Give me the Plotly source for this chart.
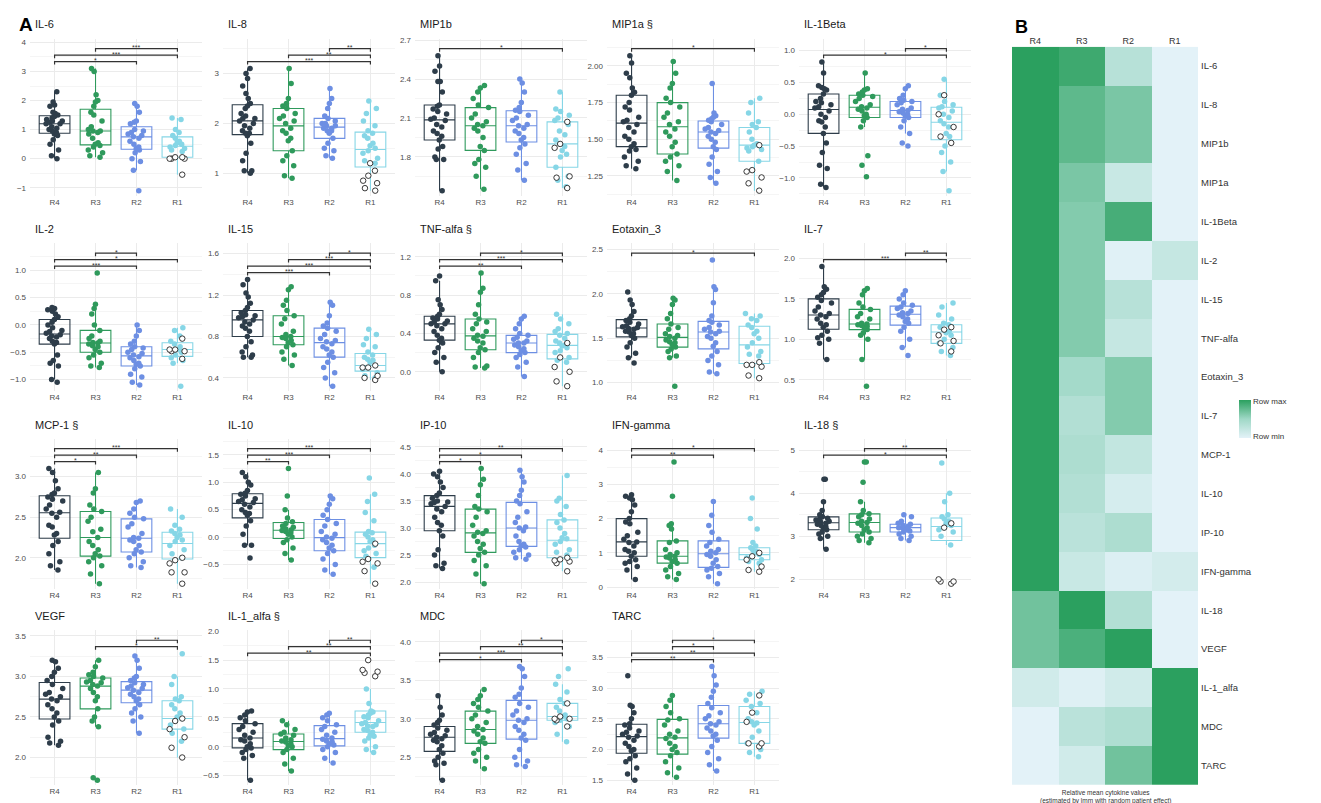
import plotly.graph_objects as go

W, H = 1321, 803
GROUPS = ["R4", "R3", "R2", "R1"]
GROUP_COLORS = ["#2e3d4a", "#2f9a5c", "#6d8fe3", "#86d6e6"]

PANEL_TITLES = ["IL-6", "IL-8", "MIP1b", "MIP1a §", "IL-1Beta",
                "IL-2", "IL-15", "TNF-alfa §", "Eotaxin_3", "IL-7",
                "MCP-1 §", "IL-10", "IP-10", "IFN-gamma", "IL-18 §",
                "VEGF", "IL-1_alfa §", "MDC", "TARC"]

# ---------------- data ----------------
IL6_R4 = [2.3, 1.95, 1.85, 1.8, 1.6, 1.55, 1.5, 1.45, 1.4, 1.35, 1.3, 1.3, 1.25, 1.2, 1.2, 1.1, 1.05, 1.0, 0.95, 0.9, 0.85, 0.8, 0.65, 0.5, 0.3, 0.1, 0.0]
IL6_R3 = [3.1, 3.0, 2.2, 2.0, 1.95, 1.8, 1.6, 1.5, 1.3, 1.1, 1.0, 0.95, 0.95, 0.9, 0.85, 0.7, 0.55, 0.5, 0.45, 0.4, 0.3, 0.2, 0.1, 0.05]
IL6_R2 = [1.9, 1.8, 1.6, 1.3, 1.25, 1.2, 1.0, 0.95, 0.9, 0.85, 0.8, 0.75, 0.7, 0.6, 0.5, 0.4, 0.35, 0.3, 0.2, 0.0, -0.1, -0.4, -1.1]
IL6_R1 = [1.4, 1.35, 1.0, 0.9, 0.8, 0.7, 0.6, 0.55, 0.5, 0.45, 0.4, 0.35, 0.3, 0.25]
IL6_R1_open = [0.05, 0.0, 0.0, 0.05, 0.0, -0.55]

IL8_R4 = [3.1, 3.0, 2.9, 2.75, 2.6, 2.5, 2.4, 2.35, 2.3, 2.2, 2.15, 2.1, 2.1, 2.05, 2.0, 1.95, 1.9, 1.85, 1.8, 1.8, 1.75, 1.6, 1.4, 1.25, 1.05, 1.0, 1.05]
IL8_R3 = [3.1, 2.8, 2.5, 2.4, 2.35, 2.3, 2.2, 2.15, 2.1, 2.05, 2.0, 1.9, 1.85, 1.8, 1.7, 1.65, 1.45, 1.35, 1.25, 1.15, 0.95, 0.9]
IL8_R2 = [2.7, 2.5, 2.4, 2.3, 2.15, 2.1, 2.05, 2.0, 2.0, 1.95, 1.95, 1.9, 1.9, 1.85, 1.85, 1.8, 1.7, 1.6, 1.5, 1.45, 1.35, 1.3]
IL8_R1 = [2.45, 2.3, 2.2, 2.05, 1.95, 1.85, 1.8, 1.75, 1.7, 1.6, 1.55, 1.5, 1.45, 1.4, 1.3, 1.25, 1.2]
IL8_R1_open = [1.2, 1.05, 0.95, 0.85, 0.7, 0.65, 0.8]

MIP1B_R4 = [2.58, 2.5, 2.46, 2.38, 2.38, 2.3, 2.2, 2.19, 2.17, 2.15, 2.13, 2.1, 2.09, 2.08, 2.05, 2.03, 2.0, 1.98, 1.96, 1.93, 1.88, 1.86, 1.8, 1.78, 1.78, 1.54]
MIP1B_R3 = [2.35, 2.33, 2.3, 2.25, 2.2, 2.18, 2.13, 2.1, 2.07, 2.05, 2.04, 2.02, 2.0, 1.95, 1.88, 1.85, 1.78, 1.75, 1.72, 1.65, 1.55]
MIP1B_R2 = [2.4, 2.37, 2.3, 2.22, 2.18, 2.16, 2.15, 2.12, 2.1, 2.08, 2.05, 2.04, 2.02, 2.0, 1.98, 1.95, 1.93, 1.9, 1.87, 1.82, 1.75, 1.7, 1.62]
MIP1B_R1 = [2.3, 2.17, 2.15, 2.12, 2.1, 2.08, 2.05, 2.0, 1.97, 1.93, 1.9, 1.88, 1.85, 1.82, 1.8, 1.72, 1.65, 1.62, 1.57]
MIP1B_R1_open = [2.07, 1.9, 1.87, 1.65, 1.64, 1.56]

MIP1A_R4 = [2.07, 2.02, 1.95, 1.92, 1.85, 1.82, 1.8, 1.75, 1.72, 1.7, 1.65, 1.63, 1.62, 1.6, 1.58, 1.55, 1.52, 1.5, 1.47, 1.45, 1.43, 1.42, 1.38, 1.35, 1.32, 1.3]
MIP1A_R3 = [2.03, 1.95, 1.88, 1.85, 1.78, 1.75, 1.72, 1.68, 1.65, 1.62, 1.6, 1.57, 1.55, 1.52, 1.48, 1.45, 1.4, 1.38, 1.35, 1.32, 1.28, 1.22]
MIP1A_R2 = [1.88, 1.68, 1.66, 1.65, 1.64, 1.63, 1.62, 1.6, 1.58, 1.57, 1.56, 1.55, 1.54, 1.52, 1.5, 1.48, 1.45, 1.43, 1.38, 1.33, 1.28, 1.24, 1.2]
MIP1A_R1 = [1.78, 1.75, 1.68, 1.62, 1.6, 1.58, 1.55, 1.5, 1.47, 1.46, 1.46, 1.45, 1.44, 1.43, 1.42, 1.35]
MIP1A_R1_open = [1.46, 1.29, 1.28, 1.24, 1.2, 1.15]

IL1B_R4 = [0.82, 0.65, 0.45, 0.42, 0.4, 0.38, 0.32, 0.25, 0.2, 0.18, 0.15, 0.12, 0.1, 0.05, 0.0, -0.05, -0.1, -0.12, -0.2, -0.3, -0.45, -0.6, -0.8, -0.85, -1.1, -1.15]
IL1B_R3 = [0.65, 0.4, 0.38, 0.35, 0.32, 0.3, 0.28, 0.25, 0.2, 0.15, 0.12, 0.1, 0.08, 0.05, 0.0, -0.02, -0.05, -0.1, -0.2, -0.65, -0.8, -0.98]
IL1B_R2 = [0.45, 0.4, 0.3, 0.25, 0.22, 0.2, 0.18, 0.15, 0.1, 0.08, 0.06, 0.04, 0.02, 0.0, -0.02, -0.05, -0.1, -0.2, -0.3, -0.45, -0.5]
IL1B_R1 = [0.55, 0.3, 0.2, 0.15, 0.12, 0.1, 0.05, 0.0, -0.05, -0.1, -0.15, -0.2, -0.3, -0.35, -0.5, -0.6, -0.75, -0.9, -1.2]
IL1B_R1_open = [0.3, 0.0, -0.2, -0.35, -0.45]

IL2_R4 = [0.32, 0.3, 0.28, 0.25, 0.2, 0.15, 0.1, 0.05, 0.0, -0.05, -0.1, -0.12, -0.15, -0.18, -0.2, -0.22, -0.25, -0.3, -0.32, -0.35, -0.55, -0.65, -0.7, -0.75, -1.0, -1.05]
IL2_R3 = [0.95, 0.38, 0.3, 0.2, 0.0, -0.1, -0.2, -0.25, -0.3, -0.32, -0.33, -0.35, -0.38, -0.4, -0.45, -0.5, -0.55, -0.6, -0.7, -0.75, -0.78]
IL2_R2 = [0.0, -0.1, -0.2, -0.3, -0.35, -0.4, -0.42, -0.45, -0.5, -0.52, -0.55, -0.58, -0.6, -0.65, -0.7, -0.72, -0.75, -0.8, -0.9, -0.95, -1.05, -1.1]
IL2_R1 = [-0.05, -0.1, -0.2, -0.3, -0.35, -0.4, -0.45, -0.5, -0.55, -0.6, -0.65, -0.7, -1.12]
IL2_R1_open = [-0.25, -0.45, -0.45, -0.48, -0.48, -0.62]

IL15_R4 = [1.35, 1.3, 1.22, 1.18, 1.12, 1.08, 1.05, 1.03, 1.01, 1.0, 0.99, 0.98, 0.96, 0.94, 0.92, 0.9, 0.88, 0.85, 0.8, 0.75, 0.7, 0.65, 0.62, 0.6, 0.6]
IL15_R3 = [1.28, 1.25, 1.15, 1.1, 1.05, 1.0, 0.97, 0.92, 0.85, 0.82, 0.8, 0.79, 0.78, 0.76, 0.74, 0.72, 0.7, 0.65, 0.62, 0.58, 0.52]
IL15_R2 = [1.13, 1.1, 1.0, 0.93, 0.9, 0.88, 0.85, 0.82, 0.78, 0.76, 0.75, 0.73, 0.7, 0.68, 0.65, 0.62, 0.6, 0.55, 0.5, 0.45, 0.4, 0.32]
IL15_R1 = [0.87, 0.82, 0.78, 0.72, 0.7, 0.65, 0.62, 0.6, 0.58, 0.57, 0.55, 0.52, 0.5, 0.48, 0.45, 0.42, 0.4]
IL15_R1_open = [0.52, 0.5, 0.5, 0.42, 0.4, 0.38]

TNF_R4 = [1.0, 0.95, 0.75, 0.7, 0.65, 0.6, 0.58, 0.56, 0.55, 0.53, 0.52, 0.5, 0.5, 0.48, 0.45, 0.42, 0.38, 0.35, 0.33, 0.3, 0.25, 0.2, 0.15, 0.1, 0.0]
TNF_R3 = [1.03, 0.87, 0.83, 0.7, 0.6, 0.55, 0.52, 0.5, 0.45, 0.42, 0.38, 0.37, 0.35, 0.32, 0.3, 0.25, 0.23, 0.2, 0.15, 0.06, 0.05, 0.04]
TNF_R2 = [0.58, 0.55, 0.5, 0.45, 0.4, 0.38, 0.36, 0.34, 0.32, 0.3, 0.3, 0.28, 0.26, 0.24, 0.22, 0.2, 0.18, 0.15, 0.1, 0.05, -0.05]
TNF_R1 = [0.6, 0.55, 0.5, 0.45, 0.42, 0.4, 0.38, 0.35, 0.32, 0.3, 0.28, 0.27, 0.25, 0.22, 0.2, 0.15, 0.12, 0.1]
TNF_R1_open = [0.3, 0.15, 0.05, 0.0, -0.1, -0.15]

EOT_R4 = [2.02, 1.93, 1.88, 1.8, 1.75, 1.72, 1.7, 1.68, 1.66, 1.64, 1.63, 1.62, 1.61, 1.6, 1.58, 1.57, 1.55, 1.53, 1.5, 1.45, 1.4, 1.33, 1.28, 1.22]
EOT_R3 = [1.95, 1.93, 1.88, 1.78, 1.72, 1.66, 1.62, 1.6, 1.55, 1.53, 1.52, 1.5, 1.48, 1.46, 1.45, 1.43, 1.4, 1.38, 1.35, 1.3, 1.28, 0.96]
EOT_R2 = [2.38, 2.08, 2.05, 1.9, 1.75, 1.7, 1.68, 1.65, 1.62, 1.6, 1.58, 1.57, 1.55, 1.52, 1.5, 1.45, 1.41, 1.35, 1.3, 1.25, 1.2, 1.12, 1.1]
EOT_R1 = [1.78, 1.75, 1.72, 1.7, 1.65, 1.62, 1.58, 1.55, 1.5, 1.45, 1.4, 1.35, 1.32, 1.3]
EOT_R1_open = [1.23, 1.2, 1.2, 1.18, 1.08, 1.05]

IL7_R4 = [1.9, 1.65, 1.62, 1.58, 1.55, 1.52, 1.48, 1.45, 1.4, 1.35, 1.32, 1.3, 1.28, 1.25, 1.2, 1.18, 1.15, 1.1, 1.05, 1.02, 1.0, 0.95, 0.75]
IL7_R3 = [1.63, 1.6, 1.55, 1.45, 1.4, 1.37, 1.32, 1.28, 1.25, 1.2, 1.19, 1.18, 1.17, 1.16, 1.15, 1.12, 1.08, 1.05, 1.0, 0.75, 0.42]
IL7_R2 = [1.6, 1.55, 1.5, 1.45, 1.42, 1.4, 1.38, 1.35, 1.33, 1.32, 1.3, 1.28, 1.25, 1.22, 1.2, 1.15, 1.1, 1.0, 0.9, 0.8]
IL7_R1 = [1.45, 1.4, 1.3, 1.25, 1.2, 1.18, 1.15, 1.12, 1.1, 1.08, 1.05, 1.0, 0.95, 0.9, 0.85, 0.8]
IL7_R1_open = [1.15, 1.12, 1.05, 0.98, 0.95, 0.85]

MCP1_R4 = [3.1, 3.05, 2.95, 2.85, 2.8, 2.78, 2.75, 2.72, 2.7, 2.65, 2.6, 2.56, 2.55, 2.5, 2.4, 2.38, 2.3, 2.28, 2.2, 2.15, 2.05, 1.95, 1.9, 1.85]
MCP1_R3 = [3.05, 2.85, 2.8, 2.65, 2.6, 2.57, 2.5, 2.45, 2.35, 2.32, 2.25, 2.2, 2.15, 2.1, 2.05, 2.02, 2.0, 1.95, 1.9, 1.8, 1.68]
MCP1_R2 = [2.7, 2.68, 2.6, 2.55, 2.5, 2.48, 2.42, 2.38, 2.3, 2.25, 2.24, 2.22, 2.2, 2.15, 2.1, 2.07, 2.05, 2.0, 1.95, 1.9, 1.88]
MCP1_R1 = [2.6, 2.5, 2.4, 2.35, 2.33, 2.3, 2.28, 2.25, 2.22, 2.2, 2.15, 2.1, 2.05, 2.0]
MCP1_R1_open = [2.0, 1.97, 1.93, 1.82, 1.82, 1.68]

IL10_R4 = [1.18, 1.1, 1.0, 0.95, 0.85, 0.8, 0.78, 0.75, 0.7, 0.68, 0.65, 0.63, 0.6, 0.55, 0.5, 0.45, 0.43, 0.4, 0.3, 0.2, 0.05, -0.15, -0.15, -0.38]
IL10_R3 = [1.25, 0.75, 0.5, 0.35, 0.28, 0.25, 0.2, 0.18, 0.15, 0.13, 0.12, 0.1, 0.08, 0.05, 0.0, -0.05, -0.1, -0.2, -0.3, -0.42]
IL10_R2 = [0.75, 0.7, 0.6, 0.5, 0.4, 0.32, 0.25, 0.2, 0.1, 0.05, 0.0, -0.02, -0.05, -0.1, -0.15, -0.2, -0.25, -0.3, -0.4, -0.5, -0.6, -0.68]
IL10_R1 = [1.08, 0.78, 0.65, 0.45, 0.3, 0.1, 0.08, 0.05, 0.0, -0.05, -0.08, -0.15, -0.2, -0.25, -0.3, -0.35, -0.55]
IL10_R1_open = [-0.12, -0.4, -0.48, -0.45, -0.62, -0.85]

IP10_R4 = [4.05, 4.0, 3.95, 3.85, 3.75, 3.65, 3.6, 3.55, 3.5, 3.48, 3.47, 3.45, 3.4, 3.35, 3.3, 3.2, 3.1, 3.05, 2.95, 2.85, 2.6, 2.5, 2.35, 2.3, 2.25]
IP10_R3 = [4.1, 3.9, 3.8, 3.6, 3.4, 3.35, 3.3, 3.2, 3.05, 2.95, 2.92, 2.9, 2.85, 2.75, 2.7, 2.62, 2.55, 2.5, 2.4, 2.3, 2.15, 1.97]
IP10_R2 = [4.07, 3.95, 3.85, 3.7, 3.6, 3.5, 3.45, 3.3, 3.2, 3.1, 3.02, 3.0, 2.95, 2.85, 2.75, 2.7, 2.67, 2.65, 2.6, 2.55, 2.5, 2.45, 2.42]
IP10_R1 = [3.97, 3.55, 3.5, 3.4, 3.25, 3.15, 3.1, 3.0, 2.9, 2.82, 2.8, 2.75, 2.7, 2.6, 2.55, 2.5]
IP10_R1_open = [2.45, 2.42, 2.4, 2.38, 2.35, 2.2]

IFNG_R4 = [2.7, 2.65, 2.6, 2.55, 2.4, 2.2, 2.0, 1.9, 1.85, 1.6, 1.5, 1.4, 1.32, 1.3, 1.2, 1.1, 1.05, 1.0, 0.9, 0.8, 0.75, 0.7, 0.6, 0.5, 0.22]
IFNG_R3 = [3.65, 2.65, 1.85, 1.8, 1.7, 1.35, 1.3, 1.1, 1.0, 0.95, 0.9, 0.88, 0.85, 0.8, 0.75, 0.7, 0.6, 0.5, 0.4, 0.3, 0.22]
IFNG_R2 = [2.5, 2.1, 1.8, 1.6, 1.4, 1.3, 1.2, 1.1, 1.05, 1.0, 0.95, 0.9, 0.8, 0.7, 0.6, 0.55, 0.5, 0.4, 0.3, 0.1]
IFNG_R1 = [2.6, 2.0, 1.7, 1.3, 1.2, 1.15, 1.1, 1.05, 1.0, 0.95, 0.9, 0.85, 0.8, 0.75, 0.7]
IFNG_R1_open = [1.0, 0.9, 0.8, 0.6, 0.5, 0.45]

IL18_R4 = [4.32, 4.32, 3.8, 3.6, 3.5, 3.45, 3.42, 3.4, 3.38, 3.35, 3.33, 3.3, 3.28, 3.25, 3.22, 3.2, 3.15, 3.1, 3.05, 3.0, 2.95, 2.7]
IL18_R3 = [4.72, 4.72, 4.25, 3.8, 3.6, 3.52, 3.5, 3.45, 3.4, 3.35, 3.32, 3.3, 3.25, 3.2, 3.15, 3.1, 3.05, 3.0, 2.95, 2.9, 2.85]
IL18_R2 = [3.5, 3.45, 3.35, 3.3, 3.28, 3.25, 3.22, 3.2, 3.2, 3.18, 3.15, 3.12, 3.1, 3.05, 3.0, 2.95, 2.9]
IL18_R1 = [4.7, 4.0, 3.8, 3.5, 3.45, 3.4, 3.35, 3.3, 3.25, 3.2, 3.15, 3.1, 3.0, 2.8]
IL18_R1_open = [3.3, 3.2, 2.0, 1.95, 1.9, 1.95]

VEGF_R4 = [3.2, 3.18, 3.1, 3.05, 3.0, 2.95, 2.9, 2.85, 2.8, 2.78, 2.75, 2.72, 2.7, 2.65, 2.6, 2.55, 2.5, 2.45, 2.4, 2.25, 2.2, 2.18, 2.15]
VEGF_R3 = [3.2, 3.12, 3.05, 3.02, 3.0, 2.98, 2.95, 2.93, 2.92, 2.9, 2.88, 2.85, 2.8, 2.75, 2.7, 2.6, 2.5, 2.45, 2.38, 1.75, 1.72]
VEGF_R2 = [3.25, 3.2, 3.1, 3.0, 2.98, 2.95, 2.92, 2.9, 2.88, 2.86, 2.85, 2.83, 2.8, 2.78, 2.75, 2.72, 2.7, 2.65, 2.6, 2.55, 2.5, 2.45, 2.3]
VEGF_R1 = [3.28, 3.0, 2.9, 2.75, 2.72, 2.7, 2.65, 2.6, 2.55, 2.5, 2.48, 2.45, 2.4, 2.35, 2.3, 2.2]
VEGF_R1_open = [2.48, 2.45, 2.35, 2.25, 2.12, 2.0]

IL1A_R4 = [0.62, 0.6, 0.55, 0.5, 0.45, 0.4, 0.35, 0.3, 0.25, 0.2, 0.15, 0.12, 0.1, 0.05, 0.0, -0.02, -0.05, -0.1, -0.15, -0.2, -0.58]
IL1A_R3 = [0.45, 0.38, 0.3, 0.25, 0.22, 0.2, 0.15, 0.12, 0.1, 0.08, 0.05, 0.02, 0.0, -0.05, -0.1, -0.2, -0.3, -0.42]
IL1A_R2 = [0.58, 0.55, 0.5, 0.45, 0.38, 0.35, 0.3, 0.25, 0.2, 0.15, 0.13, 0.1, 0.08, 0.05, 0.03, 0.0, -0.05, -0.1, -0.2, -0.28]
IL1A_R1 = [1.0, 0.75, 0.62, 0.6, 0.58, 0.55, 0.52, 0.5, 0.45, 0.42, 0.4, 0.38, 0.36, 0.35, 0.3, 0.28, 0.25, 0.2, 0.18, 0.15, 0.1, 0.0, -0.05, -0.1]
IL1A_R1_open = [1.5, 1.33, 1.3, 1.28, 1.22]

MDC_R4 = [3.3, 3.15, 3.05, 2.98, 2.95, 2.92, 2.88, 2.85, 2.82, 2.8, 2.78, 2.76, 2.74, 2.72, 2.7, 2.65, 2.6, 2.55, 2.5, 2.45, 2.42, 2.4, 2.2]
MDC_R3 = [3.38, 3.3, 3.25, 3.2, 3.15, 3.1, 3.05, 3.0, 2.95, 2.9, 2.86, 2.84, 2.8, 2.75, 2.7, 2.68, 2.6, 2.55, 2.5, 2.45, 2.35]
MDC_R2 = [3.68, 3.65, 3.55, 3.4, 3.32, 3.28, 3.2, 3.15, 3.1, 3.05, 3.0, 2.98, 2.95, 2.9, 2.85, 2.8, 2.75, 2.72, 2.6, 2.5, 2.45, 2.4, 2.38]
MDC_R1 = [3.65, 3.55, 3.45, 3.35, 3.25, 3.2, 3.15, 3.1, 3.05, 3.03, 3.0, 2.98, 2.95, 2.9, 2.8, 2.7]
MDC_R1_open = [3.2, 3.03, 3.0, 3.0, 2.98, 2.9]

TARC_R4 = [3.2, 2.72, 2.7, 2.6, 2.5, 2.42, 2.4, 2.35, 2.3, 2.28, 2.25, 2.22, 2.2, 2.15, 2.1, 2.05, 2.0, 1.98, 1.9, 1.85, 1.8, 1.7, 1.6, 1.5]
TARC_R3 = [2.88, 2.8, 2.7, 2.6, 2.5, 2.48, 2.4, 2.3, 2.25, 2.2, 2.18, 2.1, 2.05, 2.0, 1.95, 1.9, 1.8, 1.7, 1.62, 1.55]
TARC_R2 = [3.35, 3.2, 3.05, 2.95, 2.85, 2.75, 2.68, 2.6, 2.55, 2.5, 2.45, 2.42, 2.4, 2.35, 2.3, 2.25, 2.22, 2.15, 2.05, 1.95, 1.85, 1.75, 1.65]
TARC_R1 = [2.95, 2.9, 2.8, 2.75, 2.7, 2.6, 2.5, 2.45, 2.43, 2.4, 2.3, 2.2, 2.1, 2.0, 1.95, 1.88]
TARC_R1_open = [2.88, 2.6, 2.45, 2.1, 2.1, 2.05]

# significance brackets per panel, bottom to top: (from, to, label)
BRACKETS = [
    [("R4", "R2", "*"), ("R4", "R1", "***"), ("R3", "R1", "***")],
    [("R4", "R1", "***"), ("R3", "R1", "**"), ("R2", "R1", "**")],
    [("R4", "R1", "*")],
    [("R4", "R1", "*")],
    [("R4", "R1", "*"), ("R2", "R1", "*")],
    [("R4", "R2", "***"), ("R4", "R1", "*"), ("R3", "R2", "*")],
    [("R4", "R2", "***"), ("R4", "R1", "***"), ("R3", "R1", "***"), ("R2", "R1", "*")],
    [("R4", "R2", "**"), ("R4", "R1", "***"), ("R3", "R1", "*")],
    [("R4", "R1", "*")],
    [("R4", "R1", "***"), ("R2", "R1", "**")],
    [("R4", "R3", "*"), ("R4", "R2", "**"), ("R4", "R1", "***")],
    [("R4", "R3", "**"), ("R4", "R2", "***"), ("R4", "R1", "***")],
    [("R4", "R3", "*"), ("R4", "R2", "*"), ("R4", "R1", "**")],
    [("R4", "R2", "**"), ("R4", "R1", "*")],
    [("R4", "R1", "*"), ("R3", "R1", "**")],
    [("R3", "R1", "*"), ("R2", "R1", "**")],
    [("R4", "R1", "**"), ("R3", "R1", "**"), ("R2", "R1", "**")],
    [("R4", "R2", "*"), ("R4", "R1", "***"), ("R3", "R1", "**"), ("R2", "R1", "*")],
    [("R4", "R2", "**"), ("R4", "R1", "**"), ("R3", "R2", "*"), ("R3", "R1", "*")],
]

# y tick spacing and format per panel
TICK_STEP = [1, 1, 0.3, 0.25, 0.5, 0.5, 0.4, 0.4, 0.5, 0.5, 0.5, 0.5, 0.5, 1, 1, 0.5, 0.5, 0.5, 0.5]
TICK_FMT = [".0f", ".0f", ".1f", ".2f", ".1f", ".1f", ".1f", ".1f", ".1f", ".1f", ".1f", ".1f", ".1f", ".0f", ".0f", ".1f", ".1f", ".1f", ".1f"]
TICK_START = [0, 0, 1.5, 1.25, 0, 0, 0.4, 0, 0, 0, 0, 0, 0, 0, 0, 0, 0, 0, 0]

HEAT_ROWS = ["IL-6", "IL-8", "MIP1b", "MIP1a", "IL-1Beta", "IL-2", "IL-15", "TNF-alfa",
             "Eotaxin_3", "IL-7", "MCP-1", "IL-10", "IP-10", "IFN-gamma", "IL-18", "VEGF",
             "IL-1_alfa", "MDC", "TARC"]
HEAT_Z = [
    [1.0, 0.92, 0.32, 0.0],
    [1.0, 0.78, 0.66, 0.0],
    [1.0, 0.78, 0.66, 0.0],
    [1.0, 0.66, 0.2, 0.0],
    [1.0, 0.62, 0.88, 0.0],
    [1.0, 0.62, 0.02, 0.22],
    [1.0, 0.62, 0.32, 0.0],
    [1.0, 0.62, 0.22, 0.0],
    [1.0, 0.46, 0.62, 0.0],
    [1.0, 0.36, 0.62, 0.0],
    [1.0, 0.4, 0.24, 0.0],
    [1.0, 0.36, 0.1, 0.0],
    [1.0, 0.3, 0.4, 0.0],
    [1.0, 0.2, 0.05, 0.12],
    [0.7, 1.0, 0.36, 0.0],
    [0.7, 0.86, 1.0, 0.0],
    [0.14, 0.04, 0.14, 1.0],
    [0.0, 0.3, 0.38, 1.0],
    [0.0, 0.14, 0.7, 1.0],
]

PANEL_DATA = [
    (IL6_R4, IL6_R3, IL6_R2, IL6_R1, IL6_R1_open),
    (IL8_R4, IL8_R3, IL8_R2, IL8_R1, IL8_R1_open),
    (MIP1B_R4, MIP1B_R3, MIP1B_R2, MIP1B_R1, MIP1B_R1_open),
    (MIP1A_R4, MIP1A_R3, MIP1A_R2, MIP1A_R1, MIP1A_R1_open),
    (IL1B_R4, IL1B_R3, IL1B_R2, IL1B_R1, IL1B_R1_open),
    (IL2_R4, IL2_R3, IL2_R2, IL2_R1, IL2_R1_open),
    (IL15_R4, IL15_R3, IL15_R2, IL15_R1, IL15_R1_open),
    (TNF_R4, TNF_R3, TNF_R2, TNF_R1, TNF_R1_open),
    (EOT_R4, EOT_R3, EOT_R2, EOT_R1, EOT_R1_open),
    (IL7_R4, IL7_R3, IL7_R2, IL7_R1, IL7_R1_open),
    (MCP1_R4, MCP1_R3, MCP1_R2, MCP1_R1, MCP1_R1_open),
    (IL10_R4, IL10_R3, IL10_R2, IL10_R1, IL10_R1_open),
    (IP10_R4, IP10_R3, IP10_R2, IP10_R1, IP10_R1_open),
    (IFNG_R4, IFNG_R3, IFNG_R2, IFNG_R1, IFNG_R1_open),
    (IL18_R4, IL18_R3, IL18_R2, IL18_R1, IL18_R1_open),
    (VEGF_R4, VEGF_R3, VEGF_R2, VEGF_R1, VEGF_R1_open),
    (IL1A_R4, IL1A_R3, IL1A_R2, IL1A_R1, IL1A_R1_open),
    (MDC_R4, MDC_R3, MDC_R2, MDC_R1, MDC_R1_open),
    (TARC_R4, TARC_R3, TARC_R2, TARC_R1, TARC_R1_open),
]

# ---------------- layout geometry (pixels) ----------------
FONT = "Liberation Sans, Arial, sans-serif"
COL_LEFT = [22, 215, 407, 599, 791]
PANEL_W = 172
ROW_TITLE = [13, 220, 417, 610]
ROW_TOP = [28, 234, 431, 624]
ROW_BOT = [186, 383, 582, 780]

fig = go.Figure()
shapes = []
annotations = []
layout_axes = {}

def px(x):
    return x / W

def py(y):
    return 1 - y / H

for i, (title, data) in enumerate(zip(PANEL_TITLES, PANEL_DATA)):
    r, c = divmod(i, 5)
    k = i + 1
    xa, ya = f"x{k}", f"y{k}"
    left, top, bot = COL_LEFT[c], ROW_TOP[r], ROW_BOT[r]
    hp = bot - top
    groups_vals = list(data[:4])
    opens = data[4]
    allv = [v for g in groups_vals for v in g] + list(opens)
    mn, mx = min(allv), max(allv)
    nb = len(BRACKETS[i])
    pad_b = 5
    pad_t = (7 + 6.5 * (nb - 1) + 10) if nb else 8
    span = (mx - mn) * hp / (hp - pad_b - pad_t)
    u = span / hp
    yr = [mn - pad_b * u, mx + pad_t * u]

    for gi, g in enumerate(GROUPS):
        vals = list(groups_vals[gi]) + (list(opens) if g == "R1" else [])
        col = GROUP_COLORS[gi]
        fig.add_trace(go.Box(
            x=[g] * len(vals), y=vals, boxpoints="outliers", quartilemethod="inclusive",
            marker=dict(opacity=0, size=1), line=dict(color=col, width=1.1),
            fillcolor="rgba(255,255,255,0)", width=0.75, whiskerwidth=0,
            xaxis=xa, yaxis=ya, showlegend=False, hoverinfo="skip"))
        pts = groups_vals[gi]
        fig.add_trace(go.Box(
            x=[g] * len(pts), y=pts, boxpoints="all", jitter=0.6, pointpos=0,
            marker=dict(color=col, size=5.5), line=dict(color="rgba(0,0,0,0)", width=0),
            fillcolor="rgba(0,0,0,0)", width=0.75,
            xaxis=xa, yaxis=ya, showlegend=False, hoverinfo="y"))
        if g == "R1" and opens:
            fig.add_trace(go.Box(
                x=[g] * len(opens), y=opens, boxpoints="all", jitter=0.6, pointpos=0,
                marker=dict(color="white", size=5.5, line=dict(color="#222", width=0.9)),
                line=dict(color="rgba(0,0,0,0)", width=0),
                fillcolor="rgba(0,0,0,0)", width=0.75,
                xaxis=xa, yaxis=ya, showlegend=False, hoverinfo="y"))

    # significance brackets
    for j, (g1, g2, lab) in enumerate(BRACKETS[i]):
        yb = mx + (7 + 6.5 * j) * u
        x1, x2 = GROUPS.index(g1), GROUPS.index(g2)
        tip = 3 * u
        shapes.append(dict(type="path", xref=xa, yref=ya,
                           path=f"M {x1},{yb - tip} L {x1},{yb} L {x2},{yb} L {x2},{yb - tip}",
                           line=dict(color="#333333", width=1.2)))
        annotations.append(dict(x=(x1 + x2) / 2, y=yb, xref=xa, yref=ya, text=lab,
                                showarrow=False, yanchor="middle", yshift=1,
                                font=dict(size=7, color="#333333", family=FONT)))

    step = TICK_STEP[i]
    layout_axes[f"xaxis{k}"] = dict(
        domain=[px(left), px(left + PANEL_W)], anchor=ya, type="category",
        categoryorder="array", categoryarray=GROUPS, range=[-0.6, 3.6],
        showgrid=True, gridcolor="#ebebeb", gridwidth=1, zeroline=False,
        showline=False, ticks="", tickfont=dict(size=8, color="#4d4d4d", family=FONT))
    layout_axes[f"yaxis{k}"] = dict(
        domain=[py(bot), py(top)], anchor=xa, range=yr,
        tick0=TICK_START[i], dtick=step, tickformat=TICK_FMT[i],
        showgrid=True, gridcolor="#ebebeb", gridwidth=1, zeroline=False,
        minor=dict(dtick=step / 2, tick0=TICK_START[i], showgrid=True, gridcolor="#f5f5f5", gridwidth=0.6),
        showline=False, ticks="", ticklabelstandoff=3,
        tickfont=dict(size=8, color="#4d4d4d", family=FONT))
    annotations.append(dict(x=px(left + 3), y=py(ROW_TITLE[r]), xref="paper", yref="paper",
                            text=title, showarrow=False, xanchor="left", yanchor="middle",
                            font=dict(size=11, color="#1a1a1a", family=FONT)))

# ---------------- heatmap (panel B) ----------------
HK = len(PANEL_TITLES) + 1
HEAT_LEFT, HEAT_RIGHT, HEAT_TOP, HEAT_BOT = 1004, 1190, 36, 780
fig.add_trace(go.Heatmap(
    z=HEAT_Z, x=GROUPS, y=HEAT_ROWS, zmin=0, zmax=1,
    colorscale=[[0, "#e3f2f8"], [0.5, "#9fd8c6"], [1, "#2ba05f"]],
    xaxis=f"x{HK}", yaxis=f"y{HK}", hoverinfo="z",
    colorbar=dict(x=px(1231), xanchor="left", xpad=0, y=py(411), yanchor="middle",
                  lenmode="pixels", len=58, thicknessmode="pixels", thickness=12,
                  outlinewidth=0, ticks="", tickvals=[0.04, 0.96],
                  ticktext=["Row min", "Row max"],
                  tickfont=dict(size=8, color="#333333", family=FONT))))
layout_axes[f"xaxis{HK}"] = dict(
    domain=[px(HEAT_LEFT), px(HEAT_RIGHT)], anchor=f"y{HK}", side="top",
    showgrid=False, zeroline=False, ticks="", tickfont=dict(size=9, color="#333333", family=FONT))
layout_axes[f"yaxis{HK}"] = dict(
    domain=[py(HEAT_BOT), py(HEAT_TOP)], anchor=f"x{HK}", side="right",
    autorange="reversed", showgrid=False, zeroline=False, ticks="", ticklabelstandoff=2,
    tickfont=dict(size=9.5, color="#333333", family=FONT))

annotations.append(dict(x=px(1097), y=py(792), xref="paper", yref="paper",
                        text="Relative mean cytokine values<br>(estimated by lmm with random patient effect)",
                        showarrow=False, xanchor="center", yanchor="middle",
                        font=dict(size=6.5, color="#333333", family=FONT)))
annotations.append(dict(x=px(9), y=py(14), xref="paper", yref="paper", text="<b>A</b>",
                        showarrow=False, xanchor="left", yanchor="middle",
                        font=dict(size=19, color="#000000", family=FONT)))
annotations.append(dict(x=px(1005), y=py(16), xref="paper", yref="paper", text="<b>B</b>",
                        showarrow=False, xanchor="left", yanchor="middle",
                        font=dict(size=18, color="#000000", family=FONT)))

fig.update_layout(
    width=W, height=H, margin=dict(l=0, r=0, t=0, b=0),
    paper_bgcolor="white", plot_bgcolor="white", boxmode="overlay",
    font=dict(family=FONT), shapes=shapes, annotations=annotations,
    showlegend=False, **layout_axes)

fig.write_html("out.html")
